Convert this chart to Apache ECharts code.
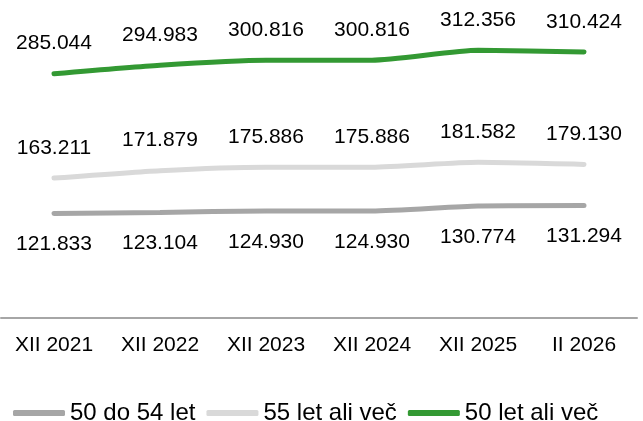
<!DOCTYPE html>
<html>
<head>
<meta charset="utf-8">
<script src="https://cdn.jsdelivr.net/npm/echarts@6/dist/echarts.min.js"></script>
<style>
  html, body { margin: 0; padding: 0; background: #fff; }
  #main { width: 643px; height: 421px; }
</style>
</head>
<body>
<div id="main"></div>
<script>
// podatki
var categories = ['XII 2021', 'XII 2022', 'XII 2023', 'XII 2024', 'XII 2025', 'II 2026'];
var s50do54 = [121833, 123104, 124930, 124930, 130774, 131294];
var s55vec = [163211, 171879, 175886, 175886, 181582, 179130];
var s50vec = [285044, 294983, 300816, 300816, 312356, 310424];

function fmt(v) {
  return String(v).replace(/\B(?=(\d{3})+(?!\d))/g, '.');
}

var chart = echarts.init(document.getElementById('main'));

function lineSeries(name, data, color, width, pos, dist) {
  return {
    name: name,
    type: 'line',
    data: data,
    smooth: 0.2,
    symbol: 'circle',
    symbolSize: 1,
    itemStyle: { color: color },
    lineStyle: { color: color, width: width, cap: 'round' },
    label: {
      show: true,
      position: pos,
      distance: dist,
      color: '#000',
      fontSize: 21,
      fontFamily: 'Liberation Sans, Arial, sans-serif',
      formatter: function (p) { return fmt(p.value); }
    }
  };
}

var option = {
  animation: false,
  grid: { left: 1, right: 6, top: 18, bottom: 103 },
  legend: {
    left: 8,
    top: 396,
    itemWidth: 52,
    itemHeight: 6,
    itemGap: 11,
    icon: 'roundRect',
    textStyle: { fontSize: 24, color: '#000', fontFamily: 'Liberation Sans, Arial, sans-serif' },
    data: ['50 do 54 let', '55 let ali več', '50 let ali več']
  },
  xAxis: {
    type: 'category',
    data: categories,
    axisLine: { lineStyle: { color: '#a6a6a6', width: 2 } },
    axisTick: { show: false },
    axisLabel: { color: '#000', fontSize: 21, margin: 17, fontFamily: 'Liberation Sans, Arial, sans-serif' }
  },
  yAxis: {
    type: 'value',
    min: 0,
    max: 350000,
    show: false,
    splitLine: { show: false }
  },
  series: [
    lineSeries('50 do 54 let', s50do54, '#a6a6a6', 5, 'bottom', 20),
    lineSeries('55 let ali več', s55vec, '#d9d9d9', 5, 'top', 19),
    lineSeries('50 let ali več', s50vec, '#339933', 5, 'top', 19)
  ]
};
chart.setOption(option);
</script>
</body>
</html>
